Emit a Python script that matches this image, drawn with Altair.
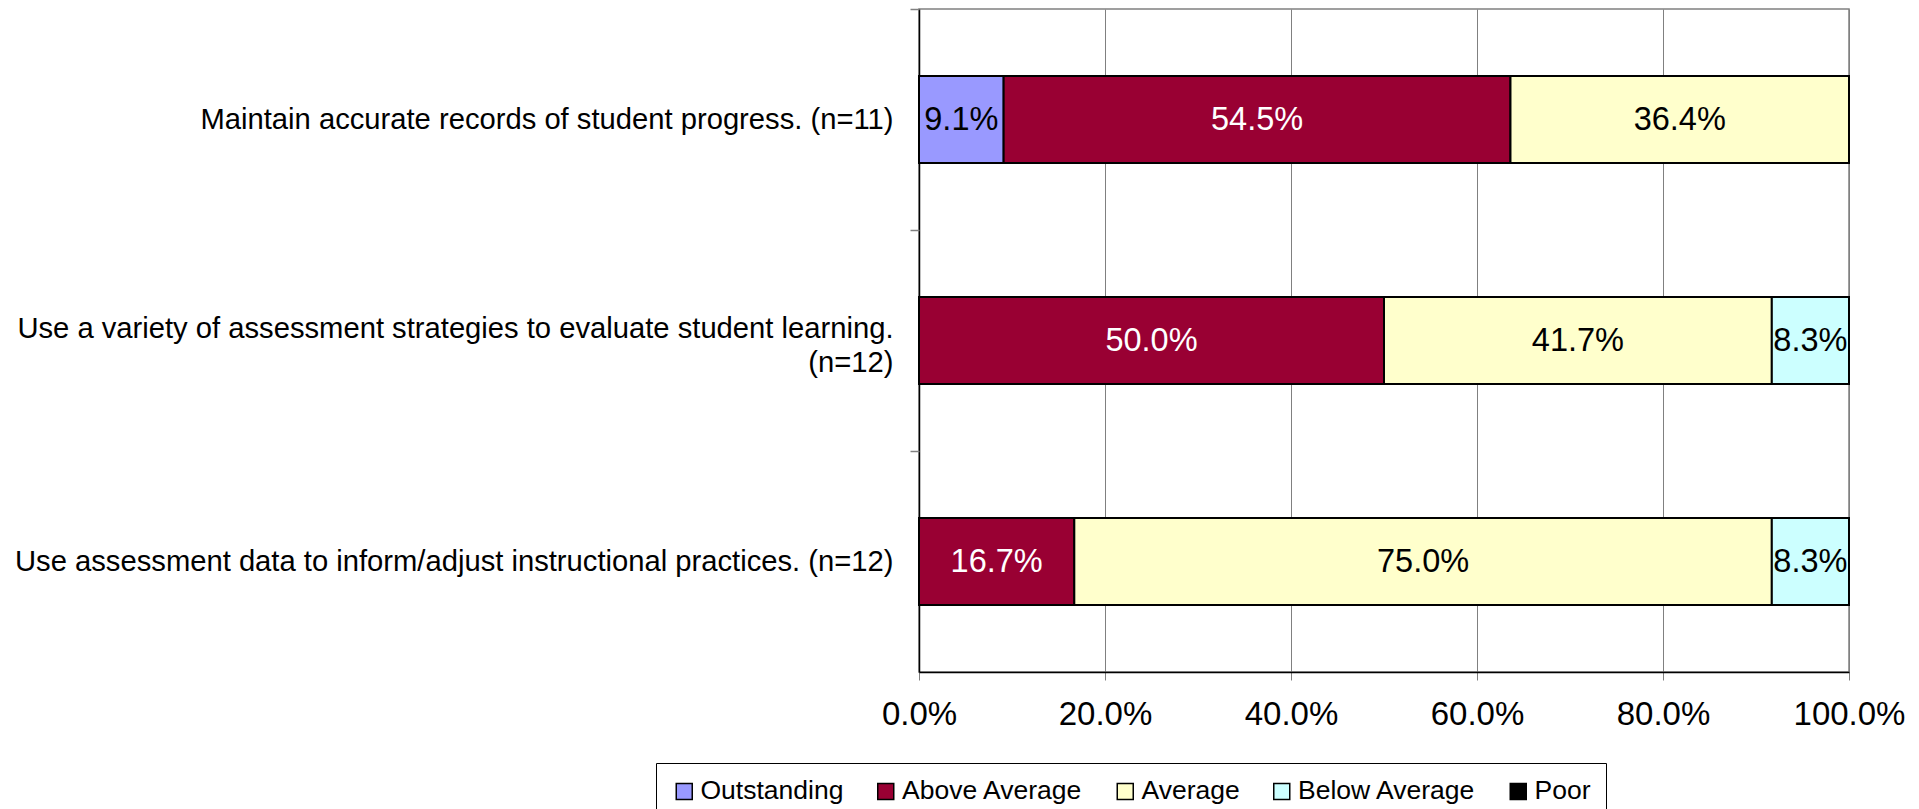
import altair as alt
import pandas as pd

items = [
    "Maintain accurate records of student progress. (n=11)",
    "Use a variety of assessment strategies to evaluate student learning.|(n=12)",
    "Use assessment data to inform/adjust instructional practices. (n=12)",
]
ratings = ["Outstanding", "Above Average", "Average", "Below Average", "Poor"]
colors = ["#9999FF", "#990033", "#FFFFCC", "#CCFFFF", "#000000"]

outstanding = [0.091, 0.0, 0.0]
above_average = [0.545, 0.500, 0.167]
average = [0.364, 0.417, 0.750]
below_average = [0.0, 0.083, 0.083]
poor = [0.0, 0.0, 0.0]

x_ticks = [0.0, 0.2, 0.4, 0.6, 0.8, 1.0]

series = [outstanding, above_average, average, below_average, poor]
rows = []
for r, (rating, vals) in enumerate(zip(ratings, series)):
    for item, v in zip(items, vals):
        if v > 0:
            rows.append({"item": item, "rating": rating, "rank": r, "value": v})
df = pd.DataFrame(rows)

FONT = "Liberation Sans"

x_axis = alt.Axis(
    title=None, values=x_ticks, format=".1%", grid=True, gridColor="#808080",
    gridWidth=1, tickColor="#808080", tickSize=8, labelFontSize=33,
    labelPadding=18, labelColor="black", labelFlush=False,
    domainColor="black", domainWidth=1.5,
)
x_scale = alt.Scale(domain=[0, 1])
y_scale = alt.Scale(paddingInner=0.606, paddingOuter=0.303)

base = alt.Chart(df)

bars = base.mark_bar(stroke="black", strokeWidth=2).encode(
    y=alt.Y(
        "item:N", sort=items, scale=y_scale,
        axis=alt.Axis(
            title=None, ticks=False, domain=True, domainColor="black", domainWidth=1.5,
            labelExpr="split(datum.label, '|')", labelFontSize=29.2, labelLimit=1200,
            labelPadding=26, labelLineHeight=34, labelColor="black", orient="left",
            labelOffset={"condition": {"test": "indexof(datum.label, '|') >= 0", "value": -12}, "value": 0},
        ),
    ),
    x=alt.X("value:Q", stack="zero", scale=x_scale, axis=x_axis),
    color=alt.Color(
        "rating:N",
        scale=alt.Scale(domain=ratings, range=colors),
        legend=alt.Legend(
            title=None, orient="none", legendX=-263, legendY=754,
            direction="horizontal", columns=5, strokeColor="black",
            fillColor="white", padding=15, symbolType="square", symbolSize=256,
            symbolStrokeColor="black", symbolStrokeWidth=1.5, symbolOpacity=1,
            labelFontSize=26.5, labelFont=FONT, labelColor="black",
            columnPadding=28.5, labelOffset=3, labelLimit=400,
        ),
    ),
    order=alt.Order("rank:Q"),
)

labels = base.transform_stack(
    stack="value", groupby=["item"], as_=["v0", "v1"],
    sort=[alt.SortField("rank", order="ascending")],
).transform_calculate(
    mid="(datum.v0 + datum.v1) / 2"
).mark_text(fontSize=32.5, font=FONT).encode(
    y=alt.Y(
        "item:N", sort=items, scale=y_scale,
        axis=alt.Axis(
            title=None, orient="left", labels=False, domain=False, ticks=True,
            tickSize=9, tickColor="#808080", tickWidth=1.5, bandPosition=0,
            tickOffset=-67, grid=False,
        ),
    ),
    x=alt.X("mid:Q", scale=x_scale, axis=x_axis),
    text=alt.Text("value:Q", format=".1%"),
    color=alt.condition(
        alt.datum.rating == "Above Average", alt.value("white"), alt.value("black")
    ),
)

chart = alt.layer(bars, labels).resolve_axis(y="independent").properties(
    width=930,
    height=663,
    autosize=alt.AutoSizeParams(type="none"),
    padding={"left": 911, "top": 1, "right": 62, "bottom": 137},
).configure(font=FONT).configure_view(stroke="#808080", strokeWidth=1.5)

chart.save("out.html", embed_options={"renderer": "svg", "actions": False})
